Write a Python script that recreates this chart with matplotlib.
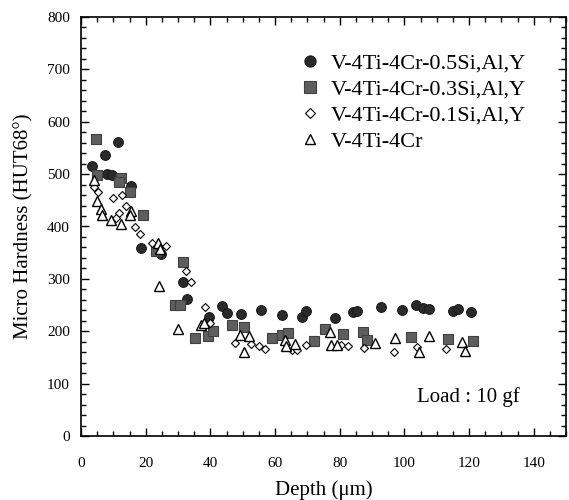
import matplotlib.pyplot as plt
from matplotlib.ticker import MultipleLocator

plt.rcParams['font.family'] = ['Liberation Serif', 'DejaVu Serif']

# V-4Ti-4Cr-0.5Si,Al,Y
depth_05 = [3.4, 7.3, 11.3, 8.0, 9.5, 15.4, 18.5, 24.8, 31.4, 32.9, 39.6, 43.7, 45.1,
            49.4, 55.7, 62.2, 68.5, 69.7, 78.5, 84.2, 85.5, 92.8, 99.2, 103.6, 105.8,
            107.7, 114.9, 116.7, 120.6]
hard_05 = [515, 536, 561, 500, 498, 478, 359, 347, 294, 262, 228, 248, 235,
           232, 241, 231, 228, 238, 226, 236, 239, 247, 241, 250, 245,
           242, 239, 243, 236]

# V-4Ti-4Cr-0.3Si,Al,Y
depth_03 = [4.5, 4.8, 12.5, 11.8, 15.2, 19.2, 23.2, 31.4, 29.0, 30.5, 35.3, 39.4, 40.9,
            46.8, 50.5, 59.2, 62.3, 64.0, 72.0, 75.6, 81.0, 87.3, 88.5, 102.2, 113.5, 121.3]
hard_03 = [568, 499, 493, 485, 466, 422, 354, 333, 251, 251, 187, 190, 201,
           211, 209, 187, 192, 196, 182, 205, 195, 199, 184, 189, 185, 181]

# V-4Ti-4Cr-0.1Si,Al,Y
depth_01 = [4.1, 5.2, 10.0, 12.6, 13.9, 11.8, 10.8, 16.8, 18.2, 22.1, 26.4, 32.4, 34.0,
            38.4, 40.0, 47.5, 52.6, 55.2, 56.8, 65.3, 66.8, 69.7, 80.5, 82.5, 87.4,
            96.8, 103.8, 112.8]
hard_01 = [476, 465, 454, 460, 440, 426, 417, 399, 385, 369, 363, 315, 294,
           247, 215, 178, 175, 172, 166, 165, 165, 173, 173, 171, 168,
           161, 169, 166]

# V-4Ti-4Cr
depth_00 = [4.1, 4.9, 6.2, 6.5, 9.3, 12.4, 15.4, 15.2, 23.9, 24.5, 24.2, 30.1, 37.0,
            38.0, 49.3, 50.3, 52.1, 63.0, 63.4, 66.1, 77.0, 77.2, 79.3, 91.0, 97.0,
            104.6, 107.5, 117.7, 118.8]
hard_00 = [488, 449, 433, 422, 413, 405, 430, 422, 369, 357, 286, 205, 212,
           216, 192, 161, 190, 184, 172, 176, 199, 173, 173, 177, 188,
           160, 190, 179, 163]

labels = ['V-4Ti-4Cr-0.5Si,Al,Y', 'V-4Ti-4Cr-0.3Si,Al,Y',
          'V-4Ti-4Cr-0.1Si,Al,Y', 'V-4Ti-4Cr']

fig = plt.figure(figsize=(5.69, 5.0), dpi=100)
ax = fig.add_axes([81 / 569, 64 / 500, 485 / 569, 419 / 500])

ax.plot(depth_05, hard_05, 'o', ms=7, mfc='#2a2a2a', mec='#1a1a1a', mew=0.8, label=labels[0])
ax.plot(depth_03, hard_03, 's', ms=7, mfc='#5e5e5e', mec='#404040', mew=0.8, label=labels[1])
ax.plot(depth_01, hard_01, 'D', ms=4.5, mfc='white', mec='black', mew=0.8, label=labels[2])
ax.plot(depth_00, hard_00, '^', ms=6.5, mfc='white', mec='black', mew=1.0, label=labels[3])

ax.set_xlim(0, 150)
ax.set_ylim(0, 800)
ax.xaxis.set_major_locator(MultipleLocator(20))
ax.xaxis.set_minor_locator(MultipleLocator(5))
ax.yaxis.set_major_locator(MultipleLocator(100))
ax.yaxis.set_minor_locator(MultipleLocator(20))
ax.set_xticks(range(0, 141, 20))
ax.tick_params(which='both', direction='in', top=True, right=True, width=1.0)
ax.tick_params(which='major', length=6, labelsize=11)
ax.tick_params(which='minor', length=3.5)
ax.tick_params(axis='x', pad=15)
ax.tick_params(axis='y', pad=8)
for s in ax.spines.values():
    s.set_linewidth(1.2)

ax.set_xlabel('Depth (\u03bcm)', fontsize=15, va='center')
ax.xaxis.set_label_coords(0.5, -0.129)
ax.set_ylabel('Micro Hardness (HUT68\u00b0)', fontsize=15, labelpad=10)

ax.legend(loc='upper left', bbox_to_anchor=(0.43, 0.935), frameon=False,
          fontsize=16, handlelength=1.0, handletextpad=0.45, labelspacing=0.25,
          borderaxespad=0, markerscale=1.15)

ax.text(0.905, 0.092, 'Load : 10 gf', transform=ax.transAxes, fontsize=15,
        ha='right', va='center')

fig.savefig('out.png', dpi=100)
